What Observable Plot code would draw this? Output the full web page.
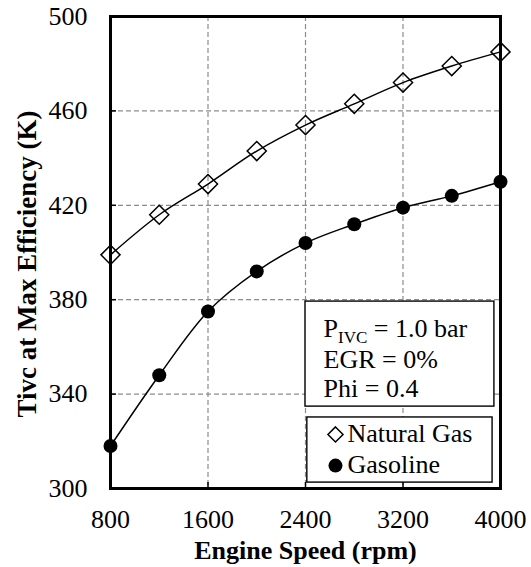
<!DOCTYPE html>
<html>
<head>
<meta charset="utf-8">
<script src="https://cdn.jsdelivr.net/npm/d3@7"></script>
<script src="https://cdn.jsdelivr.net/npm/@observablehq/plot@0.6"></script>
<style>
  html, body { margin: 0; padding: 0; background: #fff; }
  #chart svg text { font-family: 'Liberation Serif', 'Times New Roman', serif !important; }
</style>
</head>
<body>
<div id="chart"></div>
<script>
// ---- data ----
const speeds = [800, 1200, 1600, 2000, 2400, 2800, 3200, 3600, 4000];
const naturalGas = [399, 416, 429, 443, 454, 463, 472, 479, 485];
const gasoline = [318, 348, 375, 392, 404, 412, 419, 424, 430];
const xTicks = [800, 1600, 2400, 3200, 4000];
const yTicks = [300, 340, 380, 420, 460, 500];
const conditionLines = ["P_IVC = 1.0 bar", "EGR = 0%", "Phi = 0.4"];
const seriesNames = ["Natural Gas", "Gasoline"];
const xTitle = "Engine Speed (rpm)";
const yTitle = "Tivc at Max Efficiency (K)";

const ngRows = speeds.map((s, i) => ({speed: s, T: naturalGas[i]}));
const gaRows = speeds.map((s, i) => ({speed: s, T: gasoline[i]}));

const W = 531, H = 567;
const mL = 110, mR = 31, mT = 16, mB = 79;
const frameW = W - mL - mR, frameH = H - mT - mB;
const serif = "'Liberation Serif', 'Times New Roman', serif";
const grid = {stroke: "#8c8c8c", strokeWidth: 1.2, strokeDasharray: "5,3"};

// annotation placement (data units)
const condBox = {x1: 2400, x2: 3950, y1: 334.7, y2: 379.2};
const legBox = {x1: 2415, x2: 3935, y1: 302.5, y2: 330.1};
const condY = [367.9, 354.8, 342.1];
const legTextY = [323.4, 309.9];
const legMarkY = [322.9, 309.7];

const txt = {fontFamily: serif, fontSize: 26, fill: "black"};

const chart = Plot.plot({
  width: W, height: H,
  marginLeft: mL, marginRight: mR, marginTop: mT, marginBottom: mB,
  style: {fontFamily: serif, fontSize: "26px", color: "black", background: "white"},
  x: {domain: [800, 4000], label: null},
  y: {domain: [300, 500], label: null},
  marks: [
    Plot.ruleX(xTicks.slice(1, -1), grid),
    Plot.ruleY(yTicks.slice(1, -1), grid),
    Plot.frame({stroke: "black", strokeWidth: 3}),
    Plot.ruleX(xTicks, {x: d => d, insetTop: frameH - 6, stroke: "black", strokeWidth: 1.5}),
    Plot.ruleY(yTicks, {y: d => d, insetRight: frameW - 6, stroke: "black", strokeWidth: 1.5}),
    Plot.line(ngRows, {x: "speed", y: "T", curve: "catmull-rom", stroke: "black", strokeWidth: 1.5}),
    Plot.line(gaRows, {x: "speed", y: "T", curve: "catmull-rom", stroke: "black", strokeWidth: 1.5}),
    Plot.dot(ngRows, {x: "speed", y: "T", symbol: "diamond2", r: 8.6, stroke: "black", strokeWidth: 1.5, fill: "none"}),
    Plot.dot(gaRows, {x: "speed", y: "T", symbol: "circle", r: 7, fill: "black", stroke: "none"}),
    // condition box
    Plot.rect([condBox], {x1: "x1", x2: "x2", y1: "y1", y2: "y2", fill: "white", stroke: "black", strokeWidth: 1.4}),
    Plot.text(conditionLines, {...txt, x: () => 2548, y: (d, i) => condY[i], text: d => d, textAnchor: "start", lineAnchor: "middle"}),
    // legend box
    Plot.rect([legBox], {x1: "x1", x2: "x2", y1: "y1", y2: "y2", fill: "white", stroke: "black", strokeWidth: 1.4}),
    Plot.dot([0], {x: () => 2646, y: () => legMarkY[0], symbol: "diamond2", r: 6.8, stroke: "black", strokeWidth: 1.5, fill: "none"}),
    Plot.dot([0], {x: () => 2646, y: () => legMarkY[1], symbol: "circle", r: 7, fill: "black", stroke: "none"}),
    Plot.text(seriesNames, {...txt, x: () => 2745, y: (d, i) => legTextY[i], text: d => d, textAnchor: "start", lineAnchor: "middle"}),
    // axes
    Plot.axisX(xTicks, {...txt, tickSize: 0, tickPadding: 21.5, label: null, tickFormat: d => String(d)}),
    Plot.axisY(yTicks, {...txt, tickSize: 0, tickPadding: 23, label: null, tickFormat: d => String(d)}),
    // titles
    Plot.text([xTitle], {...txt, frameAnchor: "bottom", textAnchor: "middle", lineAnchor: "middle", dy: 61.7, text: d => d, fontWeight: "bold"}),
    Plot.text([yTitle], {...txt, frameAnchor: "left", textAnchor: "middle", lineAnchor: "middle", dx: -83.3, dy: 11.5, rotate: -90, text: d => d, fontWeight: "bold", fontSize: 27})
  ]
});

// subscript for P_IVC
d3.select(chart).selectAll("text").each(function () {
  if (this.textContent === "P_IVC = 1.0 bar") {
    const t = d3.select(this);
    t.text(null);
    t.append("tspan").text("P");
    t.append("tspan").attr("dy", 6).attr("font-size", 17).text("IVC");
    t.append("tspan").attr("dy", -6).text(" = 1.0 bar");
  }
});

document.getElementById("chart").appendChild(chart);
</script>
</body>
</html>
